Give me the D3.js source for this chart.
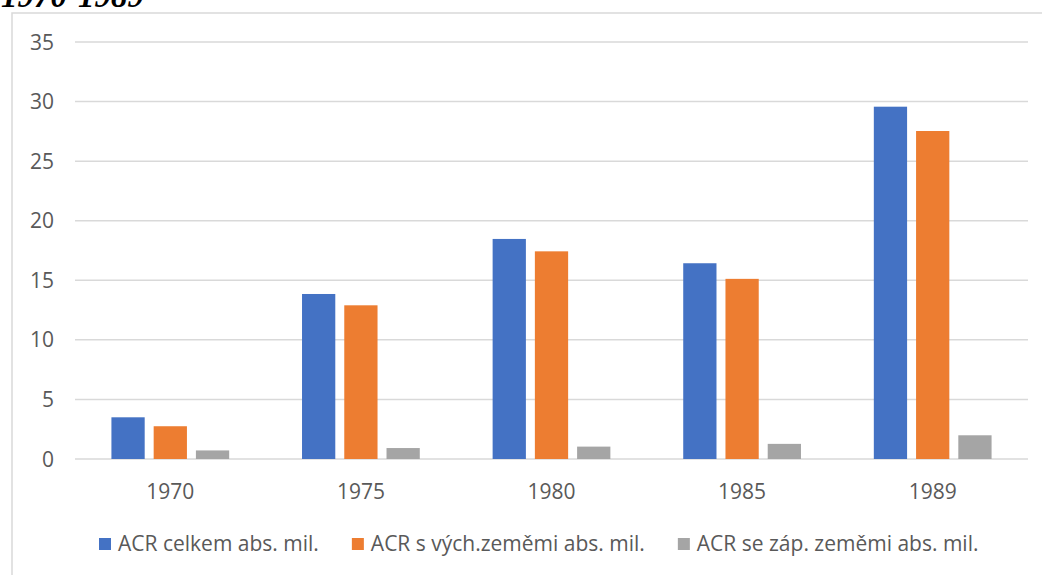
<!DOCTYPE html>
<html>
<head>
<meta charset="utf-8">
<script src="https://cdn.jsdelivr.net/npm/d3@7"></script>
<style>
	body { margin: 0; background: #fff; }
	svg { display: block; }
</style>
</head>
<body>
<svg id="chart" width="1042" height="575"></svg>
<script>
var years = ['1970', '1975', '1980', '1985', '1989'];
var seriesNames = ['ACR celkem abs. mil.', 'ACR s vých.zeměmi abs. mil.', 'ACR se záp. zeměmi abs. mil.'];
var celkem = [3.5, 13.85, 18.47, 16.43, 29.57];
var vychod = [2.75, 12.9, 17.43, 15.12, 27.53];
var zapad = [0.72, 0.92, 1.04, 1.27, 1.99];
var yTicks = [0, 5, 10, 15, 20, 25, 30, 35];
var colors = ['#4472C4', '#ED7D31', '#A5A5A5'];

var series = [celkem, vychod, zapad];

var svg = d3.select('#chart');
var font = '"Open Sans", "Noto Sans", sans-serif';

// chart frame
svg.append('rect')
	.attr('x', 12)
	.attr('y', 13)
	.attr('width', 1100)
	.attr('height', 600)
	.attr('fill', 'none')
	.attr('stroke', '#d9d9d9')
	.attr('stroke-width', 1.5);

// title (cut off at the top, like the source)
svg.append('text')
	.attr('x', 1)
	.attr('y', 7)
	.attr('font-family', '"Liberation Serif", serif')
	.attr('font-weight', 'bold')
	.attr('font-style', 'italic')
	.attr('font-size', 33)
	.attr('fill', '#000')
	.text('1970-1989');

var xScale = d3.scaleBand()
	.domain(years)
	.range([75, 1028]);

var yScale = d3.scaleLinear()
	.domain([0, 35])
	.range([459, 42]);

var barW = xScale.bandwidth() / 5.73;
var step = barW * 1.27;

// gridlines
svg.selectAll('line.grid')
	.data(yTicks)
	.enter()
	.append('line')
	.attr('class', 'grid')
	.attr('x1', 75)
	.attr('x2', 1028)
	.attr('y1', function(d) { return yScale(d); })
	.attr('y2', function(d) { return yScale(d); })
	.attr('stroke', '#d9d9d9')
	.attr('stroke-width', 1.5);

// y labels
svg.selectAll('text.ylab')
	.data(yTicks)
	.enter()
	.append('text')
	.attr('class', 'ylab')
	.attr('x', 54)
	.attr('y', function(d) { return yScale(d); })
	.attr('dy', '0.36em')
	.attr('text-anchor', 'end')
	.attr('font-family', font)
	.attr('font-size', 21)
	.attr('fill', '#595959')
	.text(function(d) { return d; });

// bars
series.forEach(function(vals, s) {
	svg.selectAll('rect.bar' + s)
		.data(vals)
		.enter()
		.append('rect')
		.attr('class', 'bar' + s)
		.attr('x', function(d, i) {
			var c = xScale(years[i]) + xScale.bandwidth() / 2;
			return c + (s - 1) * step - barW / 2;
		})
		.attr('y', function(d) { return yScale(d); })
		.attr('width', barW)
		.attr('height', function(d) { return yScale(0) - yScale(d); })
		.attr('fill', colors[s]);
});

// x labels
svg.selectAll('text.xlab')
	.data(years)
	.enter()
	.append('text')
	.attr('class', 'xlab')
	.attr('x', function(d) { return xScale(d) + xScale.bandwidth() / 2; })
	.attr('y', 491)
	.attr('dy', '0.36em')
	.attr('text-anchor', 'middle')
	.attr('font-family', font)
	.attr('font-size', 21)
	.attr('fill', '#595959')
	.text(function(d) { return d; });

// legend
var legend = svg.append('g').attr('transform', 'translate(99,544)');
var lx = 0;
seriesNames.forEach(function(name, s) {
	var g = legend.append('g').attr('transform', 'translate(' + lx + ',0)');
	g.append('rect')
		.attr('x', 0)
		.attr('y', -6)
		.attr('width', 12)
		.attr('height', 12)
		.attr('fill', colors[s]);
	var t = g.append('text')
		.attr('x', 19)
		.attr('y', -1)
		.attr('dy', '0.36em')
		.attr('font-family', font)
		.attr('font-size', 21)
		.attr('fill', '#595959')
		.text(name);
	lx += 19 + t.node().getComputedTextLength() + 33;
});
</script>
</body>
</html>
